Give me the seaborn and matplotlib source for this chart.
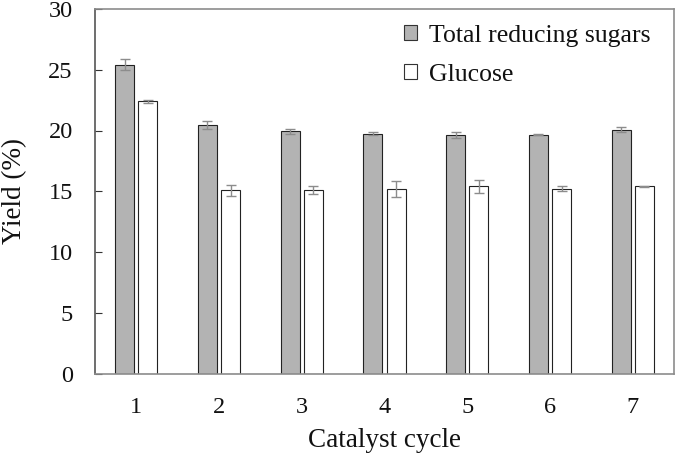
import matplotlib
matplotlib.use("Agg")
import matplotlib.pyplot as plt
import seaborn as sns
import pandas as pd

# Data
cycles = ['1', '2', '3', '4', '5', '6', '7']
trs_yield = [25.4, 20.45, 19.95, 19.75, 19.65, 19.65, 20.05]
trs_err = [0.45, 0.3, 0.2, 0.1, 0.25, 0.03, 0.2]
glucose_yield = [22.4, 15.1, 15.1, 15.2, 15.4, 15.2, 15.4]
glucose_err = [0.15, 0.45, 0.35, 0.65, 0.55, 0.2, 0.05]
series_names = ['Total reducing sugars', 'Glucose']

df = pd.DataFrame({
    'cycle': cycles * 2,
    'yield': trs_yield + glucose_yield,
    'err': trs_err + glucose_err,
    'series': [series_names[0]] * 7 + [series_names[1]] * 7,
})

sns.set_theme(style="white")
plt.rcParams['font.family'] = ['Liberation Serif', 'DejaVu Serif']

fig = plt.figure(figsize=(6.75, 4.57), dpi=100)
ax = fig.add_axes([95 / 675, 1 - 373.5 / 457, 579 / 675, 364.5 / 457])

sns.barplot(data=df, x='cycle', y='yield', hue='series', order=cycles,
            hue_order=series_names, palette=['#b3b3b3', 'white'],
            width=0.56, gap=0.18, errorbar=None, edgecolor='#222222',
            linewidth=0.8, ax=ax)

# error bars at the bar centres
for cont, name in zip(ax.containers, series_names):
    sub = df[df['series'] == name]
    xs = [p.get_x() + p.get_width() / 2 for p in cont.patches]
    ax.errorbar(xs, sub['yield'], yerr=sub['err'], fmt='none',
                ecolor='#8c8c8c', elinewidth=1, capsize=3.5, capthick=1)

ax.set_ylim(0, 30)
ax.set_yticks([0, 5, 10, 15, 20, 25, 30])
ax.set_xlim(-0.5, 6.5)
ax.tick_params(axis='y', direction='in', length=5, width=0.8, color='#333333',
               labelsize=17.5, pad=16, left=True, labelcolor='#111111')
ax.tick_params(axis='x', length=0, labelsize=17.5, pad=17, labelcolor='#111111')
for s in ax.spines.values():
    s.set_color('#8c8c8c')
    s.set_linewidth(1.2)
ax.spines['left'].set_color('#555555')

ax.set_xlabel('Catalyst cycle', fontsize=19.5, labelpad=7, color='#111111')
ax.set_ylabel('Yield (%)', fontsize=19.5, labelpad=15, color='#111111')

leg = ax.legend(loc='upper right', frameon=False, fontsize=18.5,
                handlelength=0.5, handleheight=0.5, handletextpad=0.45,
                labelspacing=0.65, bbox_to_anchor=(0.999, 1.02))
for h in leg.legend_handles:
    h.set_edgecolor('#333333')
    h.set_linewidth(0.8)
for t in leg.get_texts():
    t.set_color('#111111')

fig.savefig('out.png', dpi=100)
